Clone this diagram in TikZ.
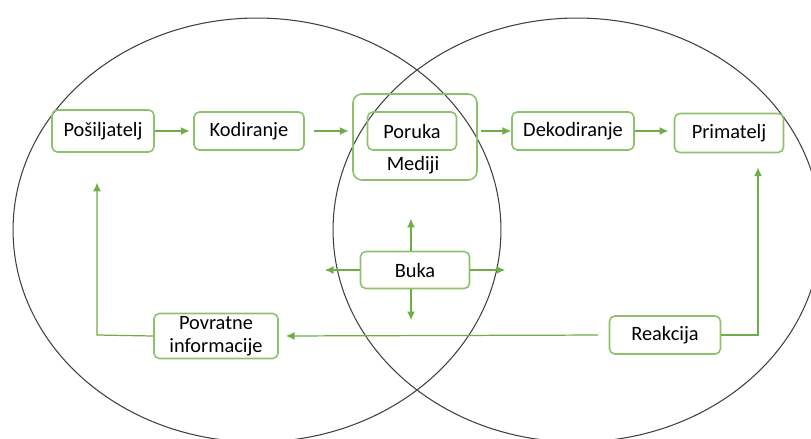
\documentclass[tikz,border=0pt]{standalone}
\usepackage{fontspec}
\setmainfont{Carlito}
\usepackage{xcolor}
\usetikzlibrary{arrows.meta}
\definecolor{zelena}{HTML}{70AD47}
\definecolor{zelenarub}{HTML}{8DC26B}

\begin{document}
\begin{tikzpicture}[x=0.02cm, y=-0.02cm,
    kutija/.style={rectangle, draw=zelenarub, line width=0.9pt, rounded corners=3pt, inner sep=1pt, font=\fontsize{11.6}{14}\selectfont, align=center},
    strelica/.style={draw=zelena, line width=0.7pt, -{Latex[length=5pt,width=4.5pt]}},
    linija/.style={draw=zelena, line width=0.7pt}]
            \useasboundingbox (0, 0) rectangle (811, 439);
            \clip (0, 0) rectangle (811, 439);

            % krugovi
            \draw[color=black!75, line width=0.6pt] (257, 230) ellipse [x radius=4.88cm, y radius=4.24cm];
            \draw[color=black!75, line width=0.6pt] (577, 230) ellipse [x radius=4.88cm, y radius=4.24cm];

            \node[kutija, minimum width=2.48cm, minimum height=1.72cm, rounded corners=5pt] (mediji) at (415, 137) {};
            \node[font=\fontsize{11.6}{14}\selectfont] (medijitekst) at (413, 165) {Mediji};

            \node[kutija, minimum width=2.04cm, minimum height=0.84cm] (posiljatelj) at (103, 131) {Pošiljatelj};
            \node[kutija, minimum width=2.2cm, minimum height=0.76cm] (kodiranje) at (249, 131) {Kodiranje};
            \node[kutija, minimum width=1.78cm, minimum height=0.76cm] (poruka) at (412, 131) {Poruka};
            \node[kutija, minimum width=2.44cm, minimum height=0.76cm] (dekodiranje) at (573, 131) {Dekodiranje};
            \node[kutija, minimum width=2.18cm, minimum height=0.78cm] (primatelj) at (729, 133) {Primatelj};
            \node[kutija, minimum width=2.18cm, minimum height=0.74cm] (buka) at (415, 270) {Buka};
            \node[kutija, minimum width=2.48cm, minimum height=0.9cm, inner sep=0pt, font=\fontsize{11.6}{13}\selectfont] (povratne) at (216, 336) {Povratne\\informacije};
            \node[kutija, minimum width=2.22cm, minimum height=0.76cm] (reakcija) at (665, 335) {Reakcija};

            \coordinate (desnokut) at (758, 335);
            \coordinate (lijevokut) at (97, 335);

            \draw[strelica, shorten >=2pt] (posiljatelj) -- (kodiranje);
            \draw[strelica, shorten <=5pt, shorten >=2pt] (kodiranje.east) -- (mediji.west |- kodiranje.east);
            \draw[strelica, shorten <=2pt] (mediji.east |- dekodiranje) -- (dekodiranje);
            \draw[strelica, shorten >=3pt] (dekodiranje.east) -- (primatelj.west |- dekodiranje.east);

            \draw[strelica, shorten >=8pt] (reakcija.east) -- (desnokut) -- (desnokut |- primatelj.south);
            \draw[strelica, shorten <=6pt, shorten >=4pt] (reakcija.west) -- (povratne.east);
            \draw[strelica, shorten >=17pt] (povratne.west) -- (lijevokut) -- (lijevokut |- posiljatelj.south);

            \draw[strelica] (buka.north -| 411, 0) -- ++(0, -32);
            \draw[strelica] (buka.south -| 411, 0) -- ++(0, 31);
            \draw[strelica] (buka.west) -- ++(-35, 0);
            \draw[strelica] (buka.east) -- ++(35, 0);

        \end{tikzpicture}
\end{document}
